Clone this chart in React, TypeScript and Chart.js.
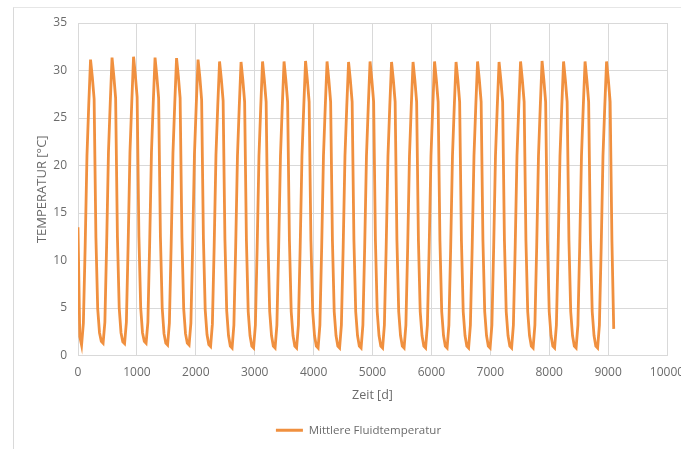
import { useEffect, useRef } from "react";
import { Chart, registerables } from "chart.js";

Chart.register(...registerables);

// Zeitschritt der Ausgabe (monatlich) in Tagen
const SCHRITT_TAGE = 30.42;

// Mittlere Fluidtemperatur [°C], je Zeile ein Jahr (12 Monatswerte)
const JAHR_01 = [13.5, 2.0, 1.1, 3.4, 11.5, 21.0, 26.4, 31.15, 29.3, 27.0, 12.4, 4.9];
const JAHR_02 = [2.4, 1.5, 1.3, 3.5, 11.8, 21.4, 26.6, 31.35, 29.4, 27.1, 12.5, 5.0];
const JAHR_03 = [2.4, 1.45, 1.25, 3.5, 11.8, 21.4, 26.6, 31.45, 29.5, 27.2, 12.5, 5.0];
const JAHR_04 = [2.4, 1.5, 1.3, 3.5, 11.8, 21.4, 26.6, 31.35, 29.4, 27.1, 12.5, 5.0];
const JAHR_05 = [2.3, 1.3, 1.1, 3.4, 11.7, 21.3, 26.5, 31.3, 29.4, 27.1, 12.4, 4.9];
const JAHR_06 = [2.3, 1.3, 1.1, 3.4, 11.6, 21.2, 26.4, 31.15, 29.3, 26.9, 12.3, 4.8];
const JAHR_07 = [2.2, 1.15, 0.95, 3.3, 11.5, 21.1, 26.3, 30.95, 29.1, 26.8, 12.2, 4.7];
const JAHR_08 = [2.1, 1.0, 0.8, 3.2, 11.4, 21.0, 26.2, 30.9, 29.0, 26.7, 12.1, 4.6];
const JAHR_09 = [2.1, 1.0, 0.8, 3.2, 11.4, 21.0, 26.2, 30.95, 29.0, 26.7, 12.1, 4.6];
const JAHR_10 = [2.1, 1.0, 0.8, 3.2, 11.4, 21.0, 26.2, 30.95, 29.0, 26.7, 12.1, 4.6];
const JAHR_11 = [2.1, 1.0, 0.8, 3.2, 11.4, 21.0, 26.2, 31.0, 29.0, 26.7, 12.1, 4.6];
const JAHR_12 = [2.1, 1.0, 0.8, 3.2, 11.4, 21.0, 26.2, 30.95, 29.0, 26.7, 12.1, 4.6];
const JAHR_13 = [2.1, 1.0, 0.8, 3.2, 11.4, 21.0, 26.2, 30.9, 29.0, 26.7, 12.1, 4.6];
const JAHR_14 = [2.1, 1.0, 0.8, 3.2, 11.4, 21.0, 26.2, 30.95, 29.0, 26.7, 12.1, 4.6];
const JAHR_15 = [2.1, 1.0, 0.8, 3.2, 11.4, 21.0, 26.2, 30.9, 29.0, 26.7, 12.1, 4.6];
const JAHR_16 = [2.1, 1.0, 0.8, 3.2, 11.4, 21.0, 26.2, 30.9, 29.0, 26.7, 12.1, 4.6];
const JAHR_17 = [2.1, 1.0, 0.8, 3.2, 11.4, 21.0, 26.2, 30.95, 29.0, 26.7, 12.1, 4.6];
const JAHR_18 = [2.1, 1.0, 0.8, 3.2, 11.4, 21.0, 26.2, 30.9, 29.0, 26.7, 12.1, 4.6];
const JAHR_19 = [2.1, 1.0, 0.8, 3.2, 11.4, 21.0, 26.2, 30.95, 29.0, 26.7, 12.1, 4.6];
const JAHR_20 = [2.1, 1.0, 0.8, 3.2, 11.4, 21.0, 26.2, 30.9, 29.0, 26.7, 12.1, 4.6];
const JAHR_21 = [2.1, 1.0, 0.8, 3.2, 11.4, 21.0, 26.2, 30.95, 29.0, 26.7, 12.1, 4.6];
const JAHR_22 = [2.1, 1.0, 0.8, 3.2, 11.4, 21.0, 26.2, 31.0, 29.0, 26.7, 12.1, 4.6];
const JAHR_23 = [2.1, 1.0, 0.8, 3.2, 11.4, 21.0, 26.2, 30.95, 29.0, 26.7, 12.1, 4.6];
const JAHR_24 = [2.1, 1.0, 0.8, 3.2, 11.4, 21.0, 26.2, 30.95, 29.0, 26.7, 12.1, 4.6];
const JAHR_25 = [2.1, 1.0, 0.8, 3.2, 11.4, 21.0, 26.2, 30.95, 29.0, 26.7, 12.0, 2.8];

const JAHRE = [
  JAHR_01, JAHR_02, JAHR_03, JAHR_04, JAHR_05, JAHR_06, JAHR_07, JAHR_08, JAHR_09,
  JAHR_10, JAHR_11, JAHR_12, JAHR_13, JAHR_14, JAHR_15, JAHR_16, JAHR_17, JAHR_18,
  JAHR_19, JAHR_20, JAHR_21, JAHR_22, JAHR_23, JAHR_24, JAHR_25,
];

const X_MIN = 0;
const X_MAX = 10000;
const X_STEP = 1000;
const Y_MIN = 0;
const Y_MAX = 35;
const Y_STEP = 5;

const SERIE = "Mittlere Fluidtemperatur";
const X_TITEL = "Zeit [d]";
const Y_TITEL = "TEMPERATUR [°C]";

const FARBE = "#F0903F";
const TEXT = "#6b6b6b";
const GITTER = "#d9d9d9";
const FONT = "'Open Sans', 'Liberation Sans', sans-serif";

export default function App() {
  const ref = useRef<HTMLCanvasElement | null>(null);

  useEffect(() => {
    if (!ref.current) return;
    const werte = JAHRE.flat();
    const punkte = werte.map((y, i) => ({ x: i * SCHRITT_TAGE, y }));

    const chart = new Chart(ref.current, {
      type: "line",
      data: {
        datasets: [
          {
            label: SERIE,
            data: punkte,
            borderColor: FARBE,
            backgroundColor: FARBE,
            borderWidth: 2.8,
            pointRadius: 0,
            tension: 0,
            fill: false,
          },
        ],
      },
      options: {
        animation: false,
        responsive: false,
        maintainAspectRatio: false,
        layout: { padding: { left: 50, top: 23, right: 53, bottom: 3 } },
        plugins: {
          tooltip: { enabled: false },
          legend: {
            position: "bottom",
            labels: {
              usePointStyle: true,
              pointStyle: "line",
              pointStyleWidth: 27,
              boxHeight: 11,
              padding: 16,
              color: TEXT,
              font: { family: FONT, size: 11.5 },
            },
          },
        },
        scales: {
          x: {
            type: "linear",
            min: X_MIN,
            max: X_MAX,
            ticks: {
              stepSize: X_STEP,
              color: TEXT,
              padding: 10,
              maxRotation: 0,
              font: { family: FONT, size: 12 },
              callback: (v: any) => String(v),
            },
            grid: { color: GITTER, drawTicks: false },
            border: { display: false },
            title: {
              display: true,
              text: X_TITEL,
              color: TEXT,
              padding: { top: 4, bottom: 6 },
              font: { family: FONT, size: 12.5 },
            },
            afterFit: (s: any) => {
              s.height = 53;
            },
          },
          y: {
            min: Y_MIN,
            max: Y_MAX,
            ticks: {
              stepSize: Y_STEP,
              color: TEXT,
              padding: 11,
              font: { family: FONT, size: 12 },
              callback: (v: any) => String(v),
            },
            grid: { color: GITTER, drawTicks: false },
            border: { display: false },
            title: {
              display: true,
              text: Y_TITEL,
              color: TEXT,
              padding: { top: -16, bottom: 4 },
              font: { family: FONT, size: 13 },
            },
            afterFit: (s: any) => {
              s.width = 28;
            },
          },
        },
      },
    });
    return () => chart.destroy();
  }, []);

  return (
    <div
      style={{
        position: "fixed",
        left: 0,
        top: 0,
        width: 681,
        height: 449,
        overflow: "hidden",
        background: "#fff",
      }}
    >
      <div
        style={{
          position: "absolute",
          left: 13,
          top: 7,
          width: 700,
          height: 460,
          borderLeft: "1px solid #d9d9d9",
          borderTop: "1px solid #e6e6e6",
        }}
      />
      <canvas
        ref={ref}
        width={720}
        height={449}
        style={{ position: "absolute", left: 0, top: 0, width: 720, height: 449 }}
      />
    </div>
  );
}
